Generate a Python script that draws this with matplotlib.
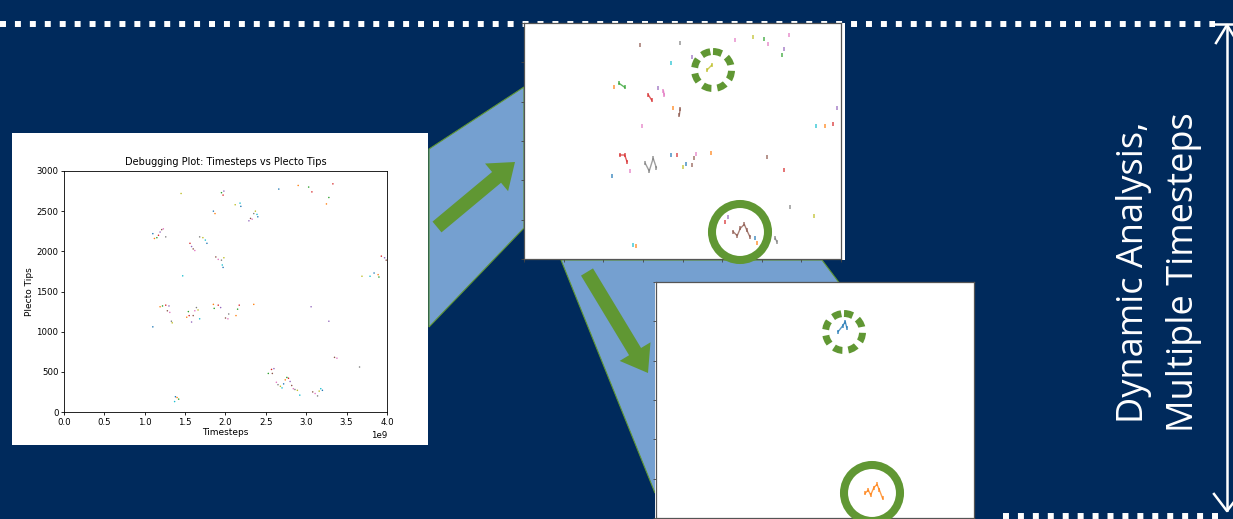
import numpy as np
import matplotlib
matplotlib.use('Agg')
from matplotlib import pyplot as plt
from matplotlib.patches import Polygon, Rectangle, Circle, FancyArrow

W, H = 1233, 519
NAVY = '#002a5c'
SKY = '#75a0d0'
GREEN = '#609733'
TAB = plt.get_cmap('tab10').colors

# Plecto tips over the whole run (timesteps in units of 1e9)
main_t = [1.10, 1.12, 1.15, 1.17, 1.19, 1.21, 1.23, 1.26, 1.45, 1.47, 1.10,
          1.19, 1.22, 1.26, 1.30, 1.28, 1.31, 1.33, 1.34, 1.37, 1.38, 1.40, 1.42,
          1.56, 1.58, 1.60, 1.62, 1.68, 1.72, 1.75, 1.77,
          1.52, 1.54, 1.55, 1.58, 1.60, 1.62, 1.64, 1.66, 1.68,
          1.85, 1.87, 1.95, 1.97, 1.98, 1.88, 1.91, 1.95, 1.98, 1.96, 1.97,
          1.85, 1.86, 1.91, 1.94, 2.00, 2.03, 2.04, 2.12, 2.18, 2.19,
          2.13, 2.15, 2.17, 2.29, 2.31, 2.33, 2.35, 2.37, 2.39, 2.40, 2.35,
          2.53, 2.57, 2.60, 2.58, 2.63, 2.65, 2.68, 2.70, 2.72, 2.74, 2.76,
          2.78, 2.80, 2.82, 2.84, 2.86, 2.89, 2.92, 2.66, 2.90, 3.03, 3.07,
          3.06, 3.08, 3.11, 3.14, 3.16, 3.18, 3.20, 3.25, 3.28, 3.33, 3.28,
          3.35, 3.38, 3.66, 3.69, 3.79, 3.84, 3.89, 3.90, 3.93, 3.97, 3.99]
main_tips = [2220, 2160, 2170, 2200, 2240, 2270, 2280, 2180, 2720, 1695, 1060,
             1310, 1320, 1330, 1320, 1260, 1240, 1130, 1110, 130, 190, 180, 160,
             2100, 2060, 2030, 2010, 2180, 2170, 2140, 2100,
             1180, 1250, 1200, 1120, 1200, 1260, 1300, 1270, 1160,
             2500, 2470, 2730, 2700, 2750, 1930, 1900, 1890, 1920, 1830, 1800,
             1340, 1290, 1330, 1300, 1170, 1160, 1220, 2580, 2600, 2560,
             1200, 1280, 1330, 2380, 2410, 2400, 2470, 2500, 2460, 2430, 1340,
             480, 530, 540, 480, 370, 340, 320, 300, 350, 400, 430,
             420, 380, 330, 290, 280, 270, 210, 2775, 2820, 2800, 2740,
             1310, 250, 230, 200, 260, 290, 270, 2590, 2670, 2840, 1130,
             680, 670, 560, 1690, 1690, 1730, 1710, 1680, 1940, 1920, 1890]

# Snapshot of the tracked tips at one later timestep
snap_t = [1.46, 1.97, 1.86, 2.12, 2.31, 2.37, 2.66, 2.89, 3.03, 3.08, 3.34,
          3.28, 3.26, 1.13, 1.20, 1.27, 1.57, 1.61, 1.69, 1.76, 1.77, 1.88,
          1.97, 1.96, 1.49, 3.69, 3.80, 3.90, 3.95, 1.21, 1.27, 1.30, 1.34,
          1.11, 1.53, 1.58, 1.63, 1.67, 1.85, 1.93, 2.04, 2.00, 2.14, 2.17,
          2.12, 2.36, 3.06, 3.28, 1.38, 1.41, 2.58, 2.54,
          2.64, 2.69, 2.73, 2.78, 2.81, 2.85, 2.91, 2.94, 3.17, 3.19, 3.36, 3.66]
snap_tips = [2720, 2742, 2488, 2572, 2403, 2466, 2784, 2826, 2797, 2733, 2847,
             2669, 2593, 2190, 2233, 2183, 2085, 2021, 2178, 2136, 2085, 1915,
             1907, 1830, 1691, 1691, 1691, 1712, 1916, 1322, 1322, 1237, 1122,
             1055, 1216, 1119, 1280, 1161, 1322, 1322, 1204, 1174, 1280, 1331,
             1195, 1344, 1300, 1127, 178, 169, 538, 475,
             347, 296, 390, 441, 369, 284, 263, 200, 263, 220, 665, 550]
snap_color = [5, 7, 9, 4, 8, 8, 6, 8, 2, 6, 6,
              4, 2, 1, 2, 2, 3, 3, 4, 6, 6, 1,
              5, 5, 6, 9, 1, 3, 4, 3, 5, 5, 6,
              0, 7, 7, 7, 7, 0, 3, 0, 8, 5, 6,
              5, 1, 5, 3, 9, 1, 4, 3,
              5, 5, 5, 5, 5, 5, 0, 1, 7, 7, 7, 8]
# tips that stay together as one track are joined
snap_group = [0, 1, 2, 3, 4, 4, 5, 6, 7, 8, 9,
              10, 11, 12, 13, 13, 14, 14, 15, 16, 16, 17,
              18, 18, 19, 20, 21, 22, 23, 24, 24, 24, 25,
              26, 27, 27, 27, 27, 28, 29, 30, 31, 32, 33,
              34, 35, 36, 37, 38, 39, 40, 41,
              42, 42, 42, 42, 42, 42, 43, 44, 45, 45, 46, 47]

# The two tips picked out for tracking
pick_t = [2.29, 2.35, 2.38, 2.40, 2.63, 2.67, 2.70, 2.74, 2.78, 2.81, 2.85]
pick_tips = [2368, 2445, 2496, 2419, 314, 356, 292, 385, 428, 356, 250]
pick_color = [0, 0, 0, 0, 1, 1, 1, 1, 1, 1, 1]


def px_box(left, top, right, bottom):
    return [left / W, 1 - bottom / H, (right - left) / W, (bottom - top) / H]


def draw_tracks(ax, t, tips, colors, groups):
    t, tips = np.asarray(t), np.asarray(tips)
    colors, groups = np.asarray(colors), np.asarray(groups)
    for g in np.unique(groups):
        sel = groups == g
        ax.plot(t[sel], tips[sel], color=TAB[colors[sel][0]], lw=1.0,
                marker='|', ms=3, mew=1.2, alpha=0.75)


def mini_axes(box):
    ax = fig.add_axes(px_box(*box))
    ax.set_xlim(0, 4.0)
    ax.set_ylim(0, 3000)
    ax.set_xticks(np.arange(0, 4.01, 0.5))
    ax.set_yticks(np.arange(0, 3001, 500))
    ax.tick_params(length=2.5, width=0.6, color='#444444',
                   labelbottom=False, labelleft=False)
    for s in ax.spines.values():
        s.set_color('#555555')
        s.set_linewidth(0.9)
    return ax


fig = plt.figure(figsize=(W / 100, H / 100), dpi=100, facecolor=NAVY)

bg = fig.add_axes([0, 0, 1, 1])
bg.set_xlim(0, W)
bg.set_ylim(H, 0)
bg.axis('off')
bg.set_facecolor(NAVY)

# dotted guide lines
dots = dict(color='white', lw=4.3, dashes=(1.0, 1.5), solid_capstyle='butt')
bg.plot([0, 1215], [24, 24], **dots)
bg.plot([1003, 1225], [516, 516], **dots)

# bracket on the right edge
bg.plot([1215, W], [24, 24], color='white', lw=1.8)
bg.plot([1227, 1227], [26, 510], color='white', lw=1.8)
bg.plot([1216, 1227, 1238], [43, 25, 43], color='white', lw=1.8)
bg.plot([1214, 1227, 1240], [494, 511, 494], color='white', lw=1.8)

# zoom wedges
bg.add_patch(Polygon([(429, 149), (524, 87), (524, 228), (429, 327)],
                     closed=True, facecolor=SKY, edgecolor=GREEN, lw=0.8))
bg.add_patch(Polygon([(561, 260), (822, 260), (905, 370), (655, 493)],
                     closed=True, facecolor=SKY, edgecolor=GREEN, lw=0.8))

# white cards behind the plots
bg.add_patch(Rectangle((12, 133), 416, 312, facecolor='white', lw=0))
bg.add_patch(Rectangle((524, 23), 321, 237, facecolor='white', lw=0))
bg.add_patch(Rectangle((655, 282), 320, 237, facecolor='white', lw=0))

# arrows between the cards
bg.add_patch(FancyArrow(437, 227, 78, -65, width=14, head_width=36,
                        head_length=24, length_includes_head=True,
                        color=GREEN, lw=0))
bg.add_patch(FancyArrow(587, 272, 61, 101, width=14, head_width=36,
                        head_length=25, length_includes_head=True,
                        color=GREEN, lw=0))

bg.text(1134, 272, 'Dynamic Analysis,', rotation=90, ha='center', va='center',
        color='white', fontsize=26, family='Open Sans')
bg.text(1184, 272, 'Multiple Timesteps', rotation=90, ha='center', va='center',
        color='white', fontsize=26, family='Open Sans')

# main debugging plot
ax = fig.add_axes(px_box(64, 171, 387, 412))
colors = [TAB[i % 10] for i in range(len(main_t))]
ax.scatter(np.array(main_t) * 1e9, main_tips, c=colors, s=3, lw=0,
           marker='|')
ax.scatter(np.array(main_t) * 1e9, main_tips, c=colors, s=1.2, lw=0)
ax.set_xlim(0, 4.0e9)
ax.set_ylim(0, 3000)
ax.set_xticks(np.arange(0, 4.01e9, 0.5e9))
ax.set_title('Debugging Plot: Timesteps vs Plecto Tips', fontsize=7, pad=4)
ax.set_xlabel('Timesteps', fontsize=6.5, labelpad=1)
ax.set_ylabel('Plecto Tips', fontsize=6.5, labelpad=2)
ax.tick_params(labelsize=6.2, length=2.5, width=0.6, pad=1.5)
ax.xaxis.get_offset_text().set_fontsize(6.2)
for s in ax.spines.values():
    s.set_linewidth(0.6)

# snapshot and tracked tips
ax1 = mini_axes((524, 23, 841, 259))
draw_tracks(ax1, snap_t, snap_tips, snap_color, snap_group)

ax2 = mini_axes((656, 282, 974, 518))
draw_tracks(ax2, pick_t, pick_tips, pick_color, pick_color)

# highlight rings
fg = fig.add_axes([0, 0, 1, 1], zorder=10)
fg.set_xlim(0, W)
fg.set_ylim(H, 0)
fg.axis('off')
fg.patch.set_alpha(0)
for cx, cy in [(713, 70), (844, 332)]:
    fg.add_patch(Circle((cx, cy), 18.5, fill=False, color=GREEN, lw=5,
                        linestyle=(0, (1.3, 0.85))))
for cx, cy in [(740, 232), (872, 493)]:
    fg.add_patch(Circle((cx, cy), 28, fill=False, color=GREEN, lw=5.8))

fig.savefig('out.png', dpi=100, facecolor=NAVY)
